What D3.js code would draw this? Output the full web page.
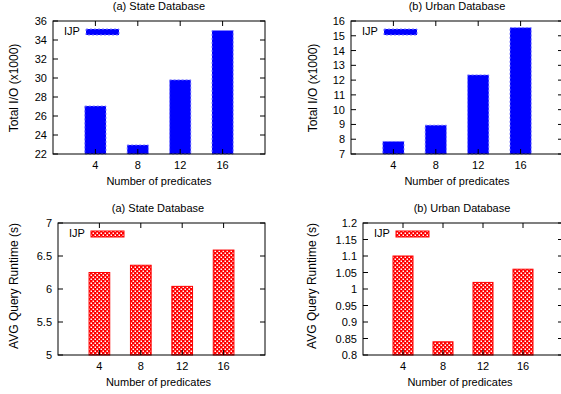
<!DOCTYPE html>
<html>
<head>
<meta charset="utf-8">
<script src="https://cdn.jsdelivr.net/npm/d3@7"></script>
<style>
  body { margin: 0; background: #fff; }
  text { font-family: "Liberation Sans", Arial, sans-serif; font-size: 11px; fill: #000; }
</style>
</head>
<body>
<svg id="chart" width="561" height="394"></svg>
<script>
// ---- data ----
var predicates = [4, 8, 12, 16];

var ioState = [27.05, 22.95, 29.8, 35.0];
var ioUrban = [7.85, 8.95, 12.35, 15.55];
var rtState = [6.25, 6.36, 6.04, 6.59];
var rtUrban = [1.10, 0.84, 1.02, 1.06];

var ticksIoState = [22, 24, 26, 28, 30, 32, 34, 36];
var ticksIoUrban = [7, 8, 9, 10, 11, 12, 13, 14, 15, 16];
var ticksRtState = [5, 5.5, 6, 6.5, 7];
var ticksRtUrban = [0.8, 0.85, 0.9, 0.95, 1, 1.05, 1.1, 1.15, 1.2];

var titles = ["(a) State Database", "(b) Urban Database"];
var yLabels = ["Total I/O (x1000)", "AVG Query Runtime (s)"];
var xLabel = "Number of predicates";
var legendName = "IJP";

var svg = d3.select("#chart");

// checker pattern for the runtime bars
var defs = svg.append("defs");
var pat = defs.append("pattern")
  .attr("id", "checker")
  .attr("patternUnits", "userSpaceOnUse")
  .attr("width", 4).attr("height", 4);
pat.append("rect").attr("width", 4).attr("height", 4).attr("fill", "#ff0000");
pat.append("rect").attr("x", 0.5).attr("y", 0.5).attr("width", 1.5).attr("height", 1.5).attr("fill", "#ffffff");
pat.append("rect").attr("x", 2.5).attr("y", 2.5).attr("width", 1.5).attr("height", 1.5).attr("fill", "#ffffff");

// panel set up
var panels = [
  { left: 53, right: 265, top: 21, bottom: 154, values: ioState, ticks: ticksIoState,
    title: titles[0], titleX: 159, ylab: yLabels[0], ylabX: 14, ylabY: 88, kind: "io" },
  { left: 351, right: 563, top: 21, bottom: 154, values: ioUrban, ticks: ticksIoUrban,
    title: titles[1], titleX: 457, ylab: yLabels[0], ylabX: 313, ylabY: 88, kind: "io" },
  { left: 58, right: 265, top: 223, bottom: 355, values: rtState, ticks: ticksRtState,
    title: titles[0], titleX: 158, ylab: yLabels[1], ylabX: 14, ylabY: 286, kind: "rt" },
  { left: 363, right: 563, top: 223, bottom: 355, values: rtUrban, ticks: ticksRtUrban,
    title: titles[1], titleX: 462, ylab: yLabels[1], ylabX: 312, ylabY: 286, kind: "rt" }
];

panels.forEach(function(p) {
  var g = svg.append("g");
  var x = d3.scaleLinear().domain([0, 20]).range([p.left, p.right]);
  var y = d3.scaleLinear().domain([p.ticks[0], p.ticks[p.ticks.length - 1]]).range([p.bottom, p.top]);
  var barW = x(2) - x(0);
  var fmt = function(v) { return String(+v.toFixed(2)); };

  // bars
  g.selectAll("rect.bar")
    .data(p.values)
    .enter()
    .append("rect")
    .attr("class", "bar")
    .attr("x", (d, i) => x(predicates[i]) - barW / 2)
    .attr("y", d => y(d))
    .attr("width", barW)
    .attr("height", d => y(p.ticks[0]) - y(d))
    .attr("fill", p.kind == "io" ? "#0000ff" : "url(#checker)")
    .attr("stroke", p.kind == "io" ? "#8080ff" : "#ff0000")
    .attr("stroke-width", 1)
    .attr("stroke-dasharray", p.kind == "io" ? "2,2" : null);

  // frame
  g.append("rect")
    .attr("x", p.left).attr("y", p.top)
    .attr("width", p.right - p.left).attr("height", p.bottom - p.top)
    .attr("fill", "none").attr("stroke", "#000").attr("stroke-width", 1);

  // y ticks (mirrored, inward)
  p.ticks.forEach(function(t) {
    g.append("line").attr("x1", p.left).attr("x2", p.left + 5)
      .attr("y1", y(t)).attr("y2", y(t)).attr("stroke", "#000");
    g.append("line").attr("x1", p.right).attr("x2", p.right - 5)
      .attr("y1", y(t)).attr("y2", y(t)).attr("stroke", "#000");
    g.append("text").attr("x", p.left - 6).attr("y", y(t) + 4)
      .attr("text-anchor", "end").text(fmt(t));
  });

  // x ticks
  predicates.forEach(function(c) {
    g.append("line").attr("x1", x(c)).attr("x2", x(c))
      .attr("y1", p.bottom).attr("y2", p.bottom - 5).attr("stroke", "#000");
    g.append("line").attr("x1", x(c)).attr("x2", x(c))
      .attr("y1", p.top).attr("y2", p.top + 5).attr("stroke", "#000");
    g.append("text").attr("x", x(c)).attr("y", p.bottom + 15)
      .attr("text-anchor", "middle").text(c);
  });

  // labels
  g.append("text").attr("x", p.titleX).attr("y", p.top - 11)
    .attr("text-anchor", "middle").text(p.title);
  g.append("text").attr("x", (p.left + p.right) / 2 + (p.kind == "io" ? 0 : -3)).attr("y", p.bottom + 31)
    .attr("text-anchor", "middle").text(xLabel);
  g.append("text")
    .attr("transform", `translate(${p.ylabX + 4}, ${p.ylabY}) rotate(-90)`)
    .attr("text-anchor", "middle")
    .style("font-size", "12px")
    .text(p.ylab);

  // legend
  var lx = p.left + 11;
  g.append("text").attr("x", lx).attr("y", p.top + 14).text(legendName);
  g.append("rect")
    .attr("x", lx + 22).attr("y", p.top + 8)
    .attr("width", 33).attr("height", 6)
    .attr("fill", p.kind == "io" ? "#0000ff" : "url(#checker)")
    .attr("stroke", p.kind == "io" ? "#8080ff" : "#ff0000")
    .attr("stroke-dasharray", p.kind == "io" ? "2,2" : null);
});
</script>
</body>
</html>
